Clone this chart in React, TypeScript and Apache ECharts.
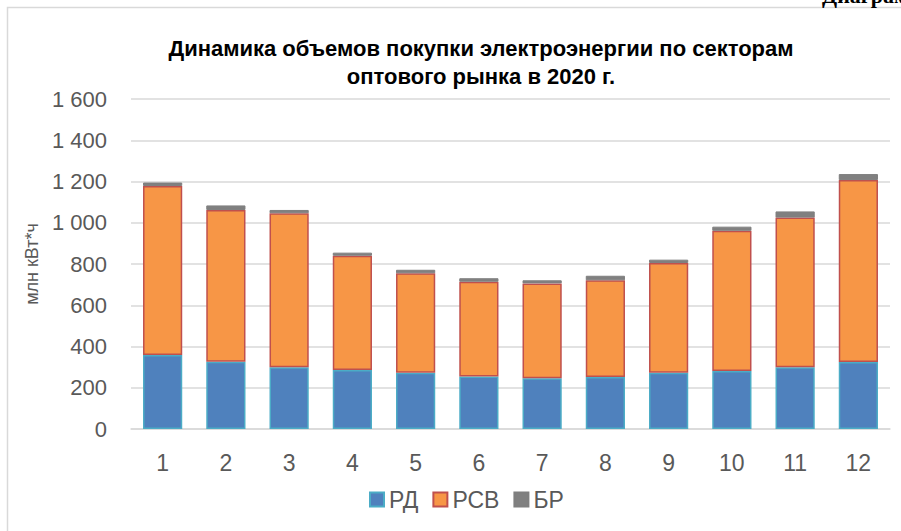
import React, { useEffect, useRef } from "react";
import * as echarts from "echarts";

const categories = ["1", "2", "3", "4", "5", "6", "7", "8", "9", "10", "11", "12"];
const rdValues = [359, 326, 300, 286, 273, 255, 246, 252, 273, 281, 299, 325];
const rsvValues = [819, 736, 746, 554, 482, 459, 460, 469, 532, 680, 726, 882];
const brValues = [17, 22, 16, 15, 17, 17, 15, 22, 16, 20, 30, 29];
const yTicks = { min: 0, max: 1600, interval: 200 };

const FONT = "'Liberation Sans', Arial, sans-serif";

export default function App() {
  const ref = useRef<HTMLDivElement>(null);
  useEffect(() => {
    if (!ref.current) return;
    const chart = echarts.init(ref.current, null, { renderer: "svg" });
    chart.setOption({
      animation: false,
      backgroundColor: "#ffffff",
      title: {
        text: "Динамика объемов покупки электроэнергии по секторам\nоптового рынка в 2020 г.",
        left: 476,
        textAlign: "center",
        top: 29,
        textStyle: {
          fontFamily: FONT,
          fontWeight: "bold",
          fontSize: 22,
          lineHeight: 28,
          color: "#000000",
        },
      },
      graphic: [
        {
          type: "rect",
          shape: { x: 7.5, y: 7.5, width: 910, height: 540 },
          style: { fill: "none", stroke: "#d9d9d9", lineWidth: 1.5 },
          silent: true,
          z: -1,
        },
        {
          type: "text",
          x: 822,
          y: 6,
          style: {
            text: "Диаграмма",
            fontFamily: "'Liberation Serif', 'Times New Roman', serif",
            fontWeight: "bold",
            fontSize: 22,
            fill: "#000000",
            textVerticalAlign: "bottom",
            textAlign: "left",
          },
          silent: true,
        },
      ],
      legend: {
        data: ["РД", "РСВ", "БР"],
        top: 483,
        left: 364,
        itemWidth: 14,
        itemHeight: 14,
        itemGap: 14,
        icon: "rect",
        textStyle: { fontFamily: FONT, fontSize: 23, color: "#595959" },
      },
      grid: { left: 131, right: 11, top: 99, bottom: 102 },
      xAxis: {
        type: "category",
        data: categories,
        axisLine: { lineStyle: { color: "#d9d9d9", width: 1.5 } },
        axisTick: { show: false },
        axisLabel: { fontFamily: FONT, fontSize: 23, color: "#595959", margin: 22 },
      },
      yAxis: {
        type: "value",
        min: yTicks.min,
        max: yTicks.max,
        interval: yTicks.interval,
        name: "млн кВт*ч",
        nameLocation: "middle",
        nameGap: 89,
        nameTextStyle: { fontFamily: FONT, fontSize: 18, color: "#595959" },
        axisLine: { show: false },
        axisTick: { show: false },
        axisLabel: {
          fontFamily: FONT,
          fontSize: 22,
          color: "#595959",
          margin: 24,
          formatter: (v: number) => String(v).replace(/\B(?=(\d{3})+(?!\d))/g, " "),
        },
        splitLine: { lineStyle: { color: "#d9d9d9", width: 1.5 } },
      },
      series: [
        {
          name: "РД",
          type: "bar",
          stack: "total",
          data: rdValues,
          barWidth: "62%",
          itemStyle: { color: "#4f81bd", borderColor: "#4bacc6", borderWidth: 1.5 },
        },
        {
          name: "РСВ",
          type: "bar",
          stack: "total",
          data: rsvValues,
          itemStyle: { color: "#f79646", borderColor: "#c0504d", borderWidth: 1.5 },
        },
        {
          name: "БР",
          type: "bar",
          stack: "total",
          data: brValues,
          itemStyle: { color: "#808080", borderColor: "#7f7f7f", borderWidth: 1 },
        },
      ],
    });
    return () => chart.dispose();
  }, []);
  return (
    <div
      ref={ref}
      style={{ position: "absolute", left: 0, top: 0, width: 901, height: 531 }}
    />
  );
}
